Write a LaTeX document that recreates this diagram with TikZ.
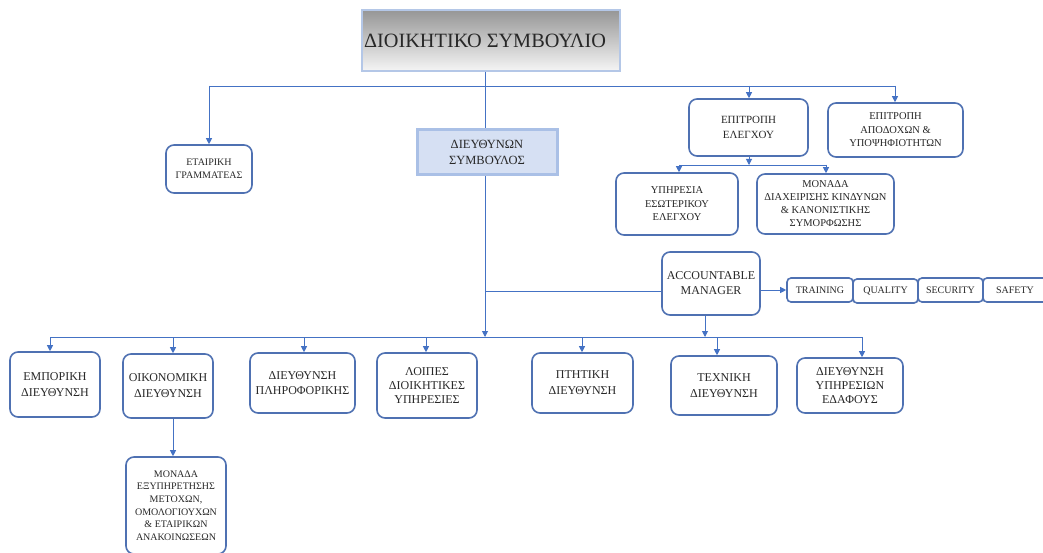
\documentclass[tikz,border=0pt]{standalone}
\usepackage{fontspec}
\setmainfont{Liberation Serif}
\usetikzlibrary{arrows.meta,shadings}
\definecolor{linec}{RGB}{68,114,196}
\definecolor{boxc}{RGB}{79,113,178}
\definecolor{textc}{RGB}{40,40,40}
\definecolor{ceofill}{RGB}{214,224,243}
\definecolor{ceoborder}{RGB}{170,192,230}
\definecolor{boardborder}{RGB}{180,199,231}
\definecolor{boardtop}{RGB}{150,150,150}
\definecolor{boardbot}{RGB}{245,245,245}
\newcommand{\myfs}[2]{\fontsize{#1}{#2}\selectfont}
\tikzset{
  box/.style={draw=boxc, line width=1.6pt, rounded corners=8pt, fill=white,
    align=center, text=textc, inner sep=1pt},
  ln/.style={draw=linec, line width=0.9pt},
  arr/.style={draw=linec, line width=0.9pt, -{Triangle[length=6pt,width=6pt]}, fill=linec},
}
\begin{document}
\begin{tikzpicture}[x=1pt,y=-1pt]
\useasboundingbox (0,0) rectangle (1043,553);
\clip (0,0) rectangle (1043,553);
\fill[white] (0,0) rectangle (1043,553);

% top
\node[draw=boardborder, line width=1.4pt, top color=boardtop, bottom color=boardbot,
  minimum width=258pt, minimum height=61pt, text=textc, font=\myfs{20.3}{24}, inner sep=0pt]
  (board) at (491,40.5) {ΔΙΟΙΚΗΤΙΚΟ ΣΥΜΒΟΥΛΙΟ\hspace*{12pt}};
\node[draw=ceoborder, line width=3pt, fill=ceofill, minimum width=140pt, minimum height=45pt,
  align=center, text=textc, font=\myfs{12.5}{16}, inner sep=0pt]
  (ceo) at (487,152.5) {ΔΙΕΥΘΥΝΩΝ\\ΣΥΜΒΟΥΛΟΣ};
\node[box, minimum width=86pt, minimum height=48pt, font=\myfs{10}{13}] (sec) at (209,169) {ΕΤΑΙΡΙΚΗ\\ΓΡΑΜΜΑΤΕΑΣ};
\node[box, minimum width=119pt, minimum height=57pt, font=\myfs{11}{15}] (aud) at (748.5,127.5) {ΕΠΙΤΡΟΠΗ\\ΕΛΕΓΧΟΥ};
\node[box, minimum width=135pt, minimum height=54pt, font=\myfs{10.5}{13.5}] (rem) at (895.5,130) {ΕΠΙΤΡΟΠΗ\\ΑΠΟΔΟΧΩΝ \&\\ΥΠΟΨΗΦΙΟΤΗΤΩΝ};
\node[box, minimum width=122pt, minimum height=62pt, font=\myfs{10.5}{13.5}] (int) at (677,204) {ΥΠΗΡΕΣΙΑ\\ΕΣΩΤΕΡΙΚΟΥ\\ΕΛΕΓΧΟΥ};
\node[box, minimum width=137pt, minimum height=60pt, font=\myfs{10.5}{13}] (risk) at (825.5,204) {ΜΟΝΑΔΑ\\ΔΙΑΧΕΙΡΙΣΗΣ ΚΙΝΔΥΝΩΝ\\\& ΚΑΝΟΝΙΣΤΙΚΗΣ\\ΣΥΜΟΡΦΩΣΗΣ};
\node[box, minimum width=98pt, minimum height=63pt, font=\myfs{12}{15}] (am) at (711,283.5) {ACCOUNTABLE\\MANAGER};
\node[box, rounded corners=4pt, minimum width=66pt, minimum height=24pt, font=\myfs{10}{12}] (tr) at (820,290) {TRAINING};
\node[box, rounded corners=4pt, minimum width=65pt, minimum height=24pt, font=\myfs{10}{12}] (qu) at (885.5,291) {QUALITY};
\node[box, rounded corners=4pt, minimum width=65pt, minimum height=24pt, font=\myfs{10}{12}] (se) at (950.5,290) {SECURITY};
\node[box, rounded corners=4pt, minimum width=64pt, minimum height=24pt, font=\myfs{10}{12}] (sa) at (1015,290) {SAFETY};

% bottom row
\node[box, minimum width=90pt, minimum height=65pt, font=\myfs{12}{16}] (emp) at (55,384.5) {ΕΜΠΟΡΙΚΗ\\ΔΙΕΥΘΥΝΣΗ};
\node[box, minimum width=90pt, minimum height=64pt, font=\myfs{12}{16}] (oik) at (168,386) {ΟΙΚΟΝΟΜΙΚΗ\\ΔΙΕΥΘΥΝΣΗ};
\node[box, minimum width=105pt, minimum height=60pt, font=\myfs{12}{15}] (pli) at (302.5,383) {ΔΙΕΥΘΥΝΣΗ\\ΠΛΗΡΟΦΟΡΙΚΗΣ};
\node[box, minimum width=100pt, minimum height=65pt, font=\myfs{12}{14}] (loi) at (427,385.5) {ΛΟΙΠΕΣ\\ΔΙΟΙΚΗΤΙΚΕΣ\\ΥΠΗΡΕΣΙΕΣ};
\node[box, minimum width=101pt, minimum height=60pt, font=\myfs{12}{16}] (pti) at (582.5,383) {ΠΤΗΤΙΚΗ\\ΔΙΕΥΘΥΝΣΗ};
\node[box, minimum width=106pt, minimum height=59pt, font=\myfs{12}{16}] (tech) at (724,385.5) {ΤΕΧΝΙΚΗ\\ΔΙΕΥΘΥΝΣΗ};
\node[box, minimum width=106pt, minimum height=55pt, font=\myfs{12}{14}] (eda) at (850,385.5) {ΔΙΕΥΘΥΝΣΗ\\ΥΠΗΡΕΣΙΩΝ\\ΕΔΑΦΟΥΣ};
\node[box, minimum width=100pt, minimum height=97pt, font=\myfs{10}{12.6}] (mon) at (176,505.5) {ΜΟΝΑΔΑ\\ΕΞΥΠΗΡΕΤΗΣΗΣ\\ΜΕΤΟΧΩΝ,\\ΟΜΟΛΟΓΙΟΥΧΩΝ\\\& ΕΤΑΙΡΙΚΩΝ\\ΑΝΑΚΟΙΝΩΣΕΩΝ};

% top bus
\coordinate (tb) at (485,86);
\coordinate (tbL) at (209,86);
\coordinate (tbA) at (749,86);
\coordinate (tbR) at (895,86);
\draw[ln] (board.south -| tb) -- (ceo.north -| tb);
\draw[ln] (tbL) -- (tbR);
\draw[arr] (tbL) -- (sec.north);
\draw[arr] (tbA) -- (tbA |- aud.north);
\draw[arr] (tbR) -- (tbR |- rem.north);

% audit subtree
\coordinate (ab) at (749,165);
\coordinate (abL) at (679,165);
\coordinate (abR) at (826,165);
\draw[arr] (aud.south -| ab) -- (ab);
\draw[ln] (abL) -- (abR);
\draw[arr] (abL) -- (abL |- int.north);
\draw[arr] (abR) -- (abR |- risk.north);

% CEO down to bottom bus
\coordinate (bb) at (485,337);
\draw[arr] (ceo.south -| bb) -- (bb);
\coordinate (amj) at (485,291);
\draw[ln] (amj) -- (amj -| am.west);
\draw[arr] (am.east |- tr.west) -- (tr.west);
\coordinate (amd) at (705,337);
\draw[arr] (amd |- am.south) -- (amd);

% bottom bus
\coordinate (b1) at (50,337);
\coordinate (b2) at (173,337);
\coordinate (b3) at (304,337);
\coordinate (b4) at (426,337);
\coordinate (b5) at (582,337);
\coordinate (b6) at (717,337);
\coordinate (b7) at (862,337);
\draw[ln] (b1) -- (b7);
\draw[arr] (b1) -- (b1 |- emp.north);
\draw[arr] (b2) -- (b2 |- oik.north);
\draw[arr] (b3) -- (b3 |- pli.north);
\draw[arr] (b4) -- (b4 |- loi.north);
\draw[arr] (b5) -- (b5 |- pti.north);
\draw[arr] (b6) -- (b6 |- tech.north);
\draw[arr] (b7) -- (b7 |- eda.north);

% oik to monada
\coordinate (om) at (173,418);
\draw[arr] (oik.south -| om) -- (om |- mon.north);
\end{tikzpicture}
\end{document}
